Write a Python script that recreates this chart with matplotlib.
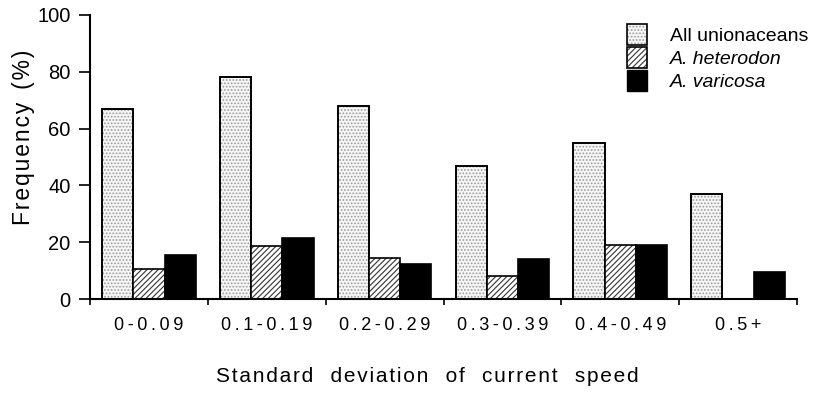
import matplotlib
matplotlib.use("Agg")
import matplotlib.pyplot as plt
import numpy as np
from matplotlib.patches import Patch
from matplotlib.legend_handler import HandlerTuple

plt.rcParams['font.family'] = ['Liberation Sans', 'DejaVu Sans']
plt.rcParams['hatch.linewidth'] = 0.8

categories = ["0-0.09", "0.1-0.19", "0.2-0.29", "0.3-0.39", "0.4-0.49", "0.5+"]
all_unionaceans = [67, 78, 68, 47, 55, 37]
a_heterodon = [10.5, 18.5, 14.5, 8, 19, 0]
a_varicosa = [15.5, 21.5, 12.5, 14, 19, 9.5]
series_names = ["All unionaceans", "A. heterodon", "A. varicosa"]


def spaced(s, sep="\u2009"):
    return sep.join(s)


fig = plt.figure(figsize=(8.22, 3.94), dpi=100)
ax = fig.add_axes([0.1095, 0.241, 0.8601, 0.721])

x = np.arange(len(categories))
w = 0.265

# All unionaceans: stippled
ax.bar(x - w, all_unionaceans, w, color='#f6f6f6', hatch='.....', edgecolor='#9a9a9a', linewidth=0)
ax.bar(x - w, all_unionaceans, w, fill=False, edgecolor='black', linewidth=1.4)
# A. heterodon: diagonal hatch
ax.bar(x, a_heterodon, w, color='white', hatch='//////', edgecolor='#333333', linewidth=0)
ax.bar(x, a_heterodon, w, fill=False, edgecolor='black', linewidth=1.2)
# A. varicosa: black
ax.bar(x + w, a_varicosa, w, color='black', edgecolor='black', linewidth=1.2)

ax.set_xlim(-0.5, 5.5)
ax.set_ylim(0, 100)
ax.set_yticks([0, 20, 40, 60, 80, 100])
ax.set_xticks(np.arange(-0.5, 6.0, 1.0))
ax.set_xticklabels([])
ax.set_xticks(x, minor=True)
ax.set_xticklabels([spaced(c) for c in categories], minor=True, fontsize=13)
ax.tick_params(axis='x', which='minor', length=0, pad=13)
ax.tick_params(axis='x', which='major', length=4, direction='out', width=1.2)
ax.tick_params(axis='y', length=8, direction='out', width=1.2, labelsize=14.5, pad=6)
for s in ['top', 'right']:
    ax.spines[s].set_visible(False)
for s in ['left', 'bottom']:
    ax.spines[s].set_linewidth(1.5)

ax.set_ylabel(spaced("Frequency", "\u200a") + "  " + spaced("(%)", "\u200a"), fontsize=16.5)
ax.yaxis.set_label_coords(-0.078, 0.57)
xl = "   ".join(spaced(wd, "\u200a") for wd in "Standard deviation of current speed".split())
ax.set_xlabel(xl, fontsize=15)
ax.xaxis.set_label_coords(0.477, -0.24)

h1 = (Patch(facecolor='#f6f6f6', hatch='.....', edgecolor='#9a9a9a', linewidth=0),
      Patch(fill=False, edgecolor='black', linewidth=1.2))
h2 = (Patch(facecolor='white', hatch='//////', edgecolor='#333333', linewidth=0),
      Patch(fill=False, edgecolor='black', linewidth=1.2))
h3 = Patch(facecolor='black', edgecolor='black')
leg = fig.legend([h1, h2, h3], series_names, handler_map={tuple: HandlerTuple(ndivide=1, pad=0)},
                 loc='upper left', bbox_to_anchor=(0.763, 0.94), frameon=False, fontsize=14,
                 handlelength=1.0, handleheight=1.3, handletextpad=1.2, labelspacing=0.1,
                 borderpad=0, borderaxespad=0)
for t in leg.get_texts()[1:]:
    t.set_style('italic')

fig.savefig("out.png", dpi=100)
